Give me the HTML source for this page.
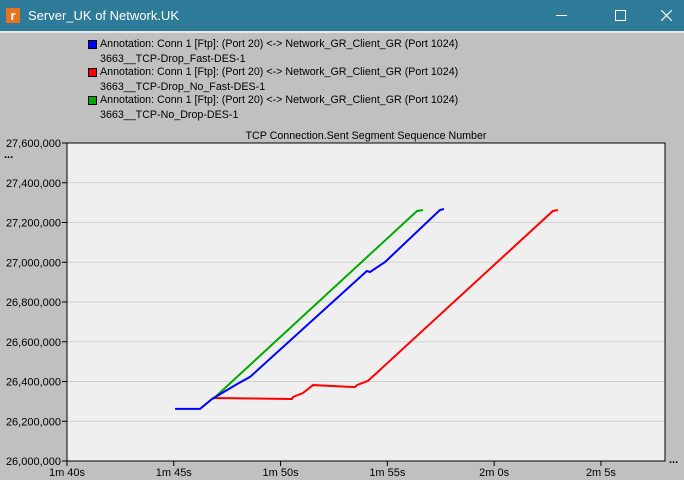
<!DOCTYPE html>
<html><head><meta charset="utf-8"><style>
body{margin:0;width:684px;height:480px;overflow:hidden;background:#c0c0c0;font-family:"Liberation Sans",sans-serif;}
#titlebar{position:absolute;left:0;top:0;width:684px;height:31px;background:#2e7b99;color:#fff;font-size:13px;}
#win{position:absolute;left:2px;top:33px;width:680px;height:447px;background:#c0c0c0;}
.leg{position:absolute;font-size:10.7px;color:#000;white-space:nowrap;}
.sw{position:absolute;width:7px;height:7px;border:1px solid #000;}
</style></head><body>
<div id="titlebar">
 <div style="position:absolute;left:6px;top:8px;width:14px;height:15px;background:#e8731f;color:#fff;font-weight:bold;font-size:13px;line-height:15px;text-align:center;">r</div>
 <div style="position:absolute;left:28px;top:8px;">Server_UK of Network.UK</div>
 <div style="position:absolute;left:556px;top:15px;width:11px;height:1px;background:#fff;"></div>
 <div style="position:absolute;left:615px;top:10px;width:9px;height:9px;border:1px solid #fff;"></div>
 <svg style="position:absolute;left:661px;top:10px" width="11" height="11"><path d="M0 0L11 11M11 0L0 11" stroke="#fff" stroke-width="1.2"/></svg>
</div>
<div id="win"></div>
<div style="position:absolute;left:0;top:31px;width:684px;height:2px;background:#e8e8e8"></div>
<div><div class="sw" style="left:88px;top:40px;background:#0000ff"></div><div class="leg" style="left:100px;top:38px">Annotation: Conn 1 [Ftp]: (Port 20) &lt;-&gt; Network_GR_Client_GR (Port 1024)</div><div class="leg" style="left:100px;top:53px">3663__TCP-Drop_Fast-DES-1</div></div>
<div><div class="sw" style="left:88px;top:68px;background:#ff0000"></div><div class="leg" style="left:100px;top:66px">Annotation: Conn 1 [Ftp]: (Port 20) &lt;-&gt; Network_GR_Client_GR (Port 1024)</div><div class="leg" style="left:100px;top:81px">3663__TCP-Drop_No_Fast-DES-1</div></div>
<div><div class="sw" style="left:88px;top:96px;background:#00aa00"></div><div class="leg" style="left:100px;top:94px">Annotation: Conn 1 [Ftp]: (Port 20) &lt;-&gt; Network_GR_Client_GR (Port 1024)</div><div class="leg" style="left:100px;top:109px">3663__TCP-No_Drop-DES-1</div></div>
<svg id="chart" width="684" height="480" style="position:absolute;left:0;top:0"></svg>
<script>
const xTicks=[100,105,110,115,120,125];
const xTickLabels=["1m 40s","1m 45s","1m 50s","1m 55s","2m 0s","2m 5s"];
const yTicks=[26000000,26200000,26400000,26600000,26800000,27000000,27200000,27400000,27600000];
const yTickLabels=["26,000,000","26,200,000","26,400,000","26,600,000","26,800,000","27,000,000","27,200,000","27,400,000","27,600,000"];
const blueT=[105.06,106.23,106.79,107.96,108.57,114.04,114.19,114.89,117.46,117.65];
const blueV=[26262000,26262000,26312000,26387000,26423000,26956000,26951000,27001000,27263000,27268000];
const redT=[106.84,110.53,110.58,111.05,111.52,113.48,113.58,114.09,114.65,122.75,122.99];
const redV=[26317000,26312000,26322000,26342000,26382000,26372000,26382000,26403000,26458000,27258000,27263000];
const greenT=[106.84,116.39,116.67];
const greenV=[26312000,27258000,27263000];
const L=67,R=665,T=143,B=461;
const x=t=>L+(t-100)/28*(R-L);
const y=v=>B-(v-26000000)/1600000*(B-T);
const svg=document.getElementById('chart');
const NS='http://www.w3.org/2000/svg';
function mk(tag,attrs,parent){const e=document.createElementNS(NS,tag);for(const k in attrs)e.setAttribute(k,attrs[k]);(parent||svg).appendChild(e);return e;}
const bg=mk('rect',{x:L,y:T,width:R-L,height:B-T,fill:'#efefef'});


const tt=mk('text',{x:366,y:139,'font-size':10.7,'text-anchor':'middle','font-family':'Liberation Sans, sans-serif'});
tt.textContent='TCP Connection.Sent Segment Sequence Number';


yTicks.forEach((v,i)=>{
 if(i>0&&i<yTicks.length-1){const g=mk('line',{x1:L,x2:R,y1:y(v),y2:y(v),stroke:'#d0d0d0'});}
 mk('line',{x1:L-5,x2:L,y1:y(v),y2:y(v),stroke:'#000'});
 const t=mk('text',{x:L-6,y:y(v)+4,'font-size':11,'text-anchor':'end','font-family':'Liberation Sans, sans-serif'});
 t.textContent=yTickLabels[i];
 
 
});
xTicks.forEach((v,i)=>{
 mk('line',{x1:x(v),x2:x(v),y1:B,y2:B+5,stroke:'#000'});
 const t=mk('text',{x:x(v),y:B+15,'font-size':11,'text-anchor':'middle','font-family':'Liberation Sans, sans-serif'});
 t.textContent=xTickLabels[i];
 
 
});
const fr=mk('rect',{x:L,y:T,width:R-L,height:B-T,fill:'none',stroke:'#000'});


function series(ts,vs,c,name){const p=mk('polyline',{points:ts.map((t,i)=>x(t)+','+y(vs[i])).join(' '),fill:'none',stroke:c,'stroke-width':2});}
series(greenT,greenV,'#00aa00','series-no-drop');
series(redT,redV,'#ff0000','series-drop-no-fast');
series(blueT,blueV,'#0000ff','series-drop-fast');
const d1=mk('text',{x:4,y:158,'font-size':11,'font-weight':'bold'});d1.textContent='...';


const d2=mk('text',{x:669,y:463,'font-size':11,'font-weight':'bold'});d2.textContent='...';


</script>
</body></html>
